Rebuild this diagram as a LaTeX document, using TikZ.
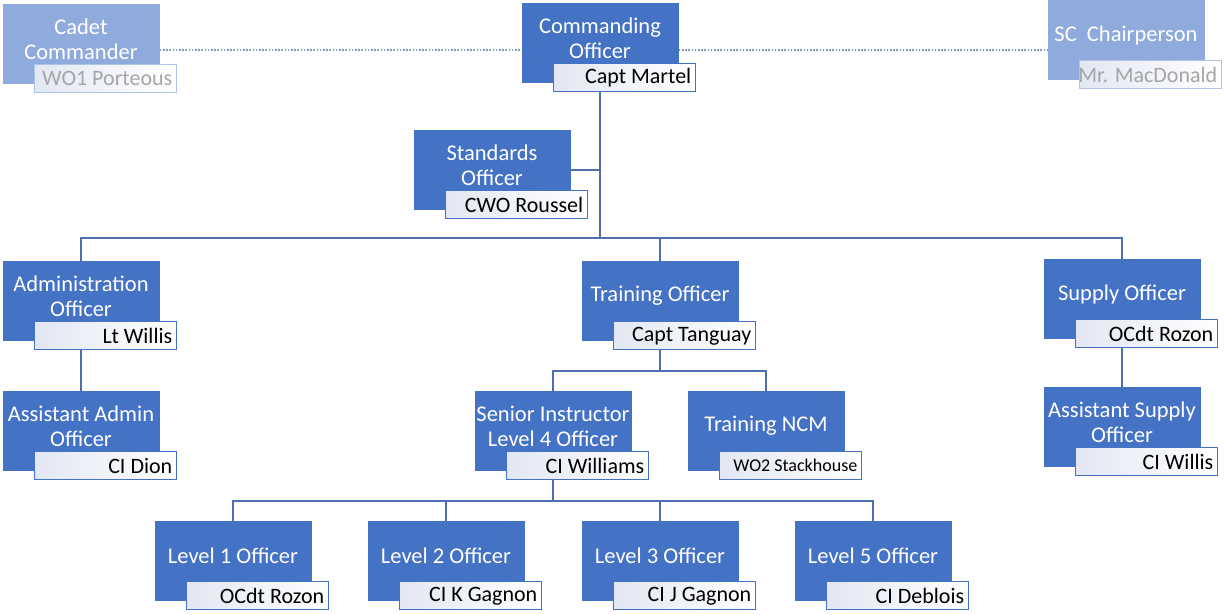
\documentclass[tikz,border=0pt]{standalone}
\usepackage{fontspec}
\setmainfont{Carlito}
\usepackage{tikz}
\usetikzlibrary{positioning}
\definecolor{postblue}{HTML}{4472C4}
\definecolor{faintblue}{HTML}{8FAADC}
\definecolor{linkblue}{HTML}{4F6FAE}
\definecolor{namefill}{HTML}{E2E7F3}
\definecolor{faintgrey}{HTML}{A6A6A6}
\newcommand{\whobox}[1]{\makebox[134pt][r]{#1}}
\tikzstyle{post}=[rectangle,fill=postblue,minimum width=157pt,minimum height=80pt,inner sep=0pt]
\tikzstyle{faintpost}=[post,fill=faintblue]
\tikzstyle{posttext}=[text=white,align=center,font=\fontsize{22.5}{25}\selectfont,yshift=5pt]
\tikzstyle{namebox}=[rectangle,draw=postblue,line width=0.9pt,left color=namefill,middle color=namefill!60!white,right color=white,minimum height=28pt,minimum width=142pt,inner xsep=4pt,inner ysep=0pt,font=\fontsize{22}{25}\selectfont,anchor=south east]
\tikzstyle{faintnamebox}=[namebox,draw=faintblue!70,text=faintgrey]
\tikzstyle{link} = [draw,linkblue,line width=1.3pt]
\tikzstyle{faintlink} = [draw,faintblue!90!black,line width=1.6pt,dash pattern=on 1.6pt off 1.6pt]

\begin{document}
\begin{tikzpicture}[x=1pt,y=-1pt]
\useasboundingbox (0,0) rectangle (1225,614);

    % First we draw the posts
    \foreach \pos/\name/\label/\who in {{(600,43)/co/{Commanding\\Officer}/Capt Martel}, {(492,170)/std/{Standards\\Officer}/CWO Roussel}, {(81,301)/adm/{Administration\\Officer}/Lt Willis}, {(660,301)/trn/{Training Officer}/Capt Tanguay}, {(1122,299)/sup/{Supply Officer}/OCdt Rozon}, {(81,431)/aadm/{Assistant Admin\\Officer}/CI Dion}, {(1122,427)/asup/{Assistant Supply\\Officer}/CI Willis}, {(553,431)/sen/{Senior Instructor\\Level 4 Officer}/CI Williams}, {(766,431)/ncm/{Training NCM}/{\fontsize{18}{20}\selectfont WO2 Stackhouse}}, {(233,561)/l1/{Level 1 Officer}/OCdt Rozon}, {(446,561)/l2/{Level 2 Officer}/CI K Gagnon}, {(660,561)/l3/{Level 3 Officer}/CI J Gagnon}, {(873,561)/l5/{Level 5 Officer}/CI Deblois}}
    {
        \node[post,label={[posttext]center:{\label}}] (\name) at \pos {};
        \node[namebox] (\name-n) at ([xshift=17pt,yshift=-9pt]\name.south east) {\whobox{\who}};
    }

    % Posts outside the chain of command
    \foreach \pos/\name/\label/\who in {{(81,44)/cadet/{Cadet\\Commander}/WO1 Porteous}, {(1126,40)/sc/{SC~ Chairperson}/Mr. MacDonald}}
    {
        \node[faintpost,label={[posttext]center:{\label}}] (\name) at \pos {};
        \node[faintnamebox] (\name-n) at ([xshift=17pt,yshift=-9pt]\name.south east) {\whobox{\who}};
    }

    % Bus levels
    \coordinate (topbus) at (0,238);
    \coordinate (trnbus) at (0,371);
    \coordinate (lvlbus) at (0,501);

    % Connect posts
    \path[faintlink] ([yshift=-6pt]cadet.east) -- ([yshift=-6pt]cadet.east -| co.west);
    \path[faintlink] ([yshift=-7pt]co.east) -- ([yshift=-7pt]co.east -| sc.west);
    \path[link] (co |- co-n.south) -- (co |- topbus);
    \path[link] (std.east) -- (std.east -| co);
    \path[link] (adm.north) -- (adm |- topbus) -- (sup |- topbus) -- (sup.north);
    \path[link] (trn.north) -- (trn |- topbus);
    \path[link] (adm |- adm-n.south) -- (aadm.north);
    \path[link] (sup |- sup-n.south) -- (asup.north);
    \path[link] (trn |- trn-n.south) -- (trn |- trnbus);
    \path[link] (sen.north) -- (sen |- trnbus) -- (ncm |- trnbus) -- (ncm.north);
    \path[link] (sen |- sen-n.south) -- (sen |- lvlbus);
    \path[link] (l1.north) -- (l1 |- lvlbus) -- (l5 |- lvlbus) -- (l5.north);
    \foreach \dest in {l2, l3}
          \path[link] (\dest.north) -- (\dest |- lvlbus);

\end{tikzpicture}
\end{document}
